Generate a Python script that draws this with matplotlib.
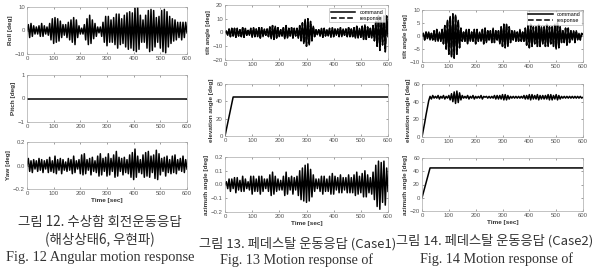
import numpy as np
import matplotlib
matplotlib.use("Agg")
import matplotlib.pyplot as plt

plt.rcParams['font.family'] = ['Liberation Sans', 'DejaVu Sans']

# time grid of the read-off extremes (every 5 s)
t = np.arange(0, 601, 5)

roll = [0, 2.5, -3, 3, -2.5, 2, -1.5, 1.5, -1.5, 2,
        -2.5, 3, -2.5, 2, -1.5, 1.5, -2, 3, -4, 5,
        -5.5, 5.5, -5, 5, -4.5, 4, -3, 2.5, -2, 2.5,
        -3, 3.5, -4, 4.5, -5, 5.5, -6, 4.5, -3, 2,
        -1.5, 1, -1.5, 2.5, -4, 5, -6, 6.5, -5.5, 4.5,
        -3.5, 3, -2.5, 1.5, -1, 1.5, -2.5, 3.5, -5, 6,
        -6.5, 6, -5, 4.5, -5, 5.5, -6, 7, -7.5, 7,
        -6, 5, -5.5, 6.5, -7, 7.5, -8, 8, -7.5, 7.5,
        -8.5, 9.5, -9, 10, -8, 6.5, -5, 4.5, -5, 6.5,
        -7.5, 8.5, -9, 9, -8.5, 8.5, -7, 5.5, -5, 6,
        -7.5, 8.5, -9, 9, -9.5, 8, -7, 6, -5.5, 5,
        -4.5, 4.5, -4, 3.5, -3, 3.5, -4, 3.5, -3, 3.5, -1]

yaw = [0.00, 0.06, -0.05, 0.04, -0.06, 0.05, -0.03, 0.04, -0.05, 0.06,
       -0.04, 0.05, -0.06, 0.04, -0.03, 0.05, -0.06, 0.07, -0.05, 0.04,
       -0.06, 0.08, -0.07, 0.05, -0.04, 0.06, -0.07, 0.05, -0.04, 0.03,
       -0.05, 0.06, -0.04, 0.05, -0.07, 0.08, -0.06, 0.04, -0.03, 0.05,
       -0.07, 0.09, -0.08, 0.10, -0.07, 0.05, -0.04, 0.06, -0.08, 0.07,
       -0.05, 0.04, -0.06, 0.08, -0.09, 0.10, -0.08, 0.06, -0.05, 0.07,
       -0.09, 0.10, -0.08, 0.06, -0.05, 0.09, -0.10, 0.12, -0.09, 0.07,
       -0.05, 0.06, -0.08, 0.07, -0.06, 0.05, -0.07, 0.09, -0.10, 0.11,
       -0.12, 0.14, -0.10, 0.08, -0.06, 0.05, -0.07, 0.09, -0.10, 0.11,
       -0.09, 0.12, -0.10, 0.08, -0.06, 0.09, -0.11, 0.13, -0.12, 0.10,
       -0.08, 0.06, -0.05, 0.07, -0.09, 0.08, -0.06, 0.05, -0.07, 0.08,
       -0.06, 0.09, -0.07, 0.05, -0.04, 0.06, -0.05, 0.08, -0.06, 0.05, -0.03]

pitch_t = [0, 600]
pitch = [0, 0]

tilt1 = [0, 1, -2, 2.5, -3, 3, -2.5, 3, -3.5, 3,
         -2.5, 2, -3, 3.5, -3.5, 3, -2, 1.5, -2, 3,
         -3.5, 3.5, -3, 2.5, -3, 3.5, -4, 3.5, -3, 2.5,
         -2, 2.5, -3, 4, -4.5, 5, -5, 4.5, -4, 3.5,
         -3, 2, -2.5, 3.5, -4.5, 5, -4, 3, -2.5, 3.5,
         -4, 3, -2.5, 3, -4, 5, -6, 7, -8, 9.5,
         -10, 10, -9, 8, -6, 4.5, -3, 2, -1.5, 2,
         -2.5, 3, -3.5, 3, -2.5, 2, -2.5, 3, -3.5, 3.5,
         -3, 2.5, -2, 2.5, -3, 3.5, -3, 2.5, -2, 2.5,
         -3, 3.5, -3, 2.5, -3, 3.5, -4, 4.5, -4, 3,
         -3.5, 4.5, -5, 5.5, -5, 4, -3.5, 3, -4, 5,
         -6, 8, -10, 12, -13, 11, -9, 12, -14, 12, -3]

ramp_t = [0, 30, 600]
elev1 = [0, 45, 45]

azim1 = [0, 0.02, -0.03, 0.04, -0.05, 0.04, -0.03, 0.05, -0.06, 0.05,
         -0.04, 0.03, -0.05, 0.06, -0.05, 0.04, -0.03, 0.02, -0.04, 0.06,
         -0.07, 0.06, -0.05, 0.04, -0.05, 0.06, -0.07, 0.06, -0.05, 0.04,
         -0.03, 0.04, -0.05, 0.07, -0.08, 0.09, -0.07, 0.06, -0.05, 0.04,
         -0.04, 0.03, -0.04, 0.06, -0.08, 0.09, -0.07, 0.05, -0.04, 0.06,
         -0.07, 0.05, -0.04, 0.06, -0.08, 0.10, -0.11, 0.12, -0.12, 0.14,
         -0.13, 0.15, -0.12, 0.11, -0.09, 0.07, -0.05, 0.04, -0.03, 0.04,
         -0.05, 0.06, -0.07, 0.06, -0.05, 0.04, -0.05, 0.06, -0.07, 0.08,
         -0.07, 0.06, -0.04, 0.05, -0.06, 0.07, -0.06, 0.05, -0.04, 0.05,
         -0.06, 0.07, -0.06, 0.05, -0.06, 0.07, -0.08, 0.09, -0.07, 0.06,
         -0.06, 0.08, -0.09, 0.10, -0.09, 0.07, -0.06, 0.05, -0.07, 0.09,
         -0.11, 0.14, -0.16, 0.17, -0.18, 0.16, -0.13, 0.17, -0.15, 0.12, -0.05]

tilt2 = [0, 1, -1.5, 1.5, -1, 1.5, -1.5, 1, -1.5, 2,
         -2, 2.5, -2, 1.5, -2, 2.5, -3, 4, -5, 6,
         -7, 7.5, -8, 8.5, -8.5, 8, -7, 6, -4.5, 3,
         -2, 1.5, -2, 2.5, -3, 2.5, -2, 1.5, -2, 2.5,
         -3, 2.5, -2, 1.5, -2, 2.5, -3, 3, -2.5, 2,
         -1.5, 2, -2.5, 3, -2.5, 2, -1.5, 2, -3, 3.5,
         -4, 4.5, -4.5, 4.5, -4, 3.5, -2.5, 2, -1.5, 2,
         -2, 1.5, -2, 2.5, -2, 1.5, -2, 3, -3.5, 4,
         -4.5, 4.5, -4, 3.5, -3, 3.5, -4, 4.5, -4, 3.5,
         -3, 3.5, -4, 4.5, -4, 3.5, -3, 3.5, -4, 4.5,
         -5, 5, -4.5, 3.5, -2.5, 2, -2.5, 3, -3.5, 3,
         -2.5, 2, -1.5, 2, -2.5, 2, -1.5, 1, -1.5, 1, 0.5]

elev2 = [0, 8, 16, 25, 33, 41, 46, 43, 47, 44,
         46, 44, 47, 43, 46, 44, 47, 43, 46, 44,
         47, 42, 49, 40, 51, 38, 52, 39, 50, 42,
         47, 44, 46, 44, 47, 43, 46, 44, 47, 43,
         46, 44, 46, 44, 47, 43, 46, 45, 46, 44,
         46, 44, 46, 44, 47, 43, 47, 43, 47, 43,
         48, 42, 48, 42, 47, 43, 46, 44, 46, 44,
         46, 44, 46, 44, 46, 44, 47, 43, 47, 43,
         48, 42, 48, 43, 47, 43, 48, 42, 47, 43,
         47, 43, 47, 43, 48, 42, 48, 42, 47, 43,
         48, 42, 47, 43, 46, 44, 46, 44, 46, 44,
         46, 44, 46, 44, 46, 44, 46, 44, 46, 44, 45]

azim2 = [0, 45, 45]

W, H = 592, 269
fig = plt.figure(figsize=(W / 100, H / 100), dpi=100)


def add_ax(x0, x1, y0, y1):
    return fig.add_axes([x0 / W, 1 - y1 / H, (x1 - x0) / W, (y1 - y0) / H])


def style(ax, ylim, yticks, ylabel, xlabel=None):
    ax.set_xlim(0, 600)
    ax.set_ylim(*ylim)
    ax.set_xticks(range(0, 601, 100))
    ax.set_yticks(yticks)
    ax.tick_params(direction='in', length=1.5, width=0.4, labelsize=4.3,
                   colors='#555555', top=True, right=True, pad=1.5)
    for s in ax.spines.values():
        s.set_color('#aaaaaa')
        s.set_linewidth(0.5)
    ax.set_ylabel(ylabel, fontsize=4.6, fontweight='bold', labelpad=1.5,
                  color='#333333')
    if xlabel:
        ax.set_xlabel(xlabel, fontsize=4.6, fontweight='bold', labelpad=1.5,
                      color='#333333')


def legend(ax, pad):
    leg = ax.legend(loc='upper right', fontsize=3.9, frameon=True,
                    fancybox=False, edgecolor='#999999', handlelength=4.5,
                    borderpad=0.3, labelspacing=0.15, borderaxespad=pad)
    leg.get_frame().set_linewidth(0.4)


lw = 1.1

# column 1: ship angular motion
ax = add_ax(27, 187, 7, 54)
ax.plot(t, roll, 'k-', lw=lw)
style(ax, (-10, 10), [-10, 0, 10], 'Roll [deg]')

ax = add_ax(27, 187, 75, 122)
ax.plot(pitch_t, pitch, 'k-', lw=lw)
style(ax, (-1, 1), [-1, 0, 1], 'Pitch [deg]')

ax = add_ax(27, 187, 142, 189)
ax.plot(t, yaw, 'k-', lw=lw)
style(ax, (-0.2, 0.2), [-0.2, 0, 0.2], 'Yaw [deg]', 'Time [sec]')

# column 2: pedestal Case1
ax = add_ax(225, 388, 5, 60)
ax.plot(t, tilt1, 'k-', lw=lw, label='command')
ax.plot(t, tilt1, 'k--', lw=lw, label='response')
style(ax, (-20, 20), [-20, -10, 0, 10, 20], 'tilt angle [deg]')
legend(ax, 0.6)

ax = add_ax(225, 388, 84, 136)
ax.plot(ramp_t, elev1, 'k-', lw=lw)
style(ax, (0, 60), [0, 20, 40, 60], 'elevation angle [deg]')

ax = add_ax(225, 388, 157, 212)
ax.plot(t, azim1, 'k-', lw=lw)
style(ax, (-0.2, 0.2), [-0.2, -0.1, 0, 0.1, 0.2], 'azimuth angle [deg]',
      'Time [sec]')

# column 3: pedestal Case2
ax = add_ax(422, 583, 10, 62)
ax.plot(t, tilt2, 'k-', lw=lw, label='command')
ax.plot(t, tilt2, 'k--', lw=lw, label='response')
style(ax, (-10, 10), [-10, -5, 0, 5, 10], 'tilt angle [deg]')
legend(ax, 0.1)

ax = add_ax(422, 583, 84, 137)
ax.plot(t, elev2, 'k-', lw=lw)
style(ax, (0, 60), [0, 20, 40, 60], 'elevation angle [deg]')

ax = add_ax(422, 583, 158, 211)
ax.plot(ramp_t, azim2, 'k-', lw=lw)
style(ax, (-20, 60), [-20, 0, 20, 40, 60], 'azimuth angle [deg]',
      'Time [sec]')

# captions
kr = ['Noto Sans CJK KR', 'DejaVu Sans']
en = ['Liberation Serif', 'DejaVu Serif']


def put(x, y, s, fam, size, ha='center'):
    fig.text(x / W, 1 - y / H, s, family=fam, ha=ha, va='center',
             fontsize=size, color='#333333')


put(100, 222, '그림 12. 수상함 회전운동응답', kr, 9.7)
put(100, 240, '(해상상태6, 우현파)', kr, 9.7)
put(100, 257, 'Fig. 12 Angular motion response', en, 10.4)
put(298, 244, '그림 13. 페데스탈 운동응답 (Case1)', kr, 9.5)
put(297, 260, 'Fig. 13 Motion response of', en, 10.2)
put(396, 241, '그림 14. 페데스탈 운동응답 (Case2)', kr, 9.5, ha='left')
put(497, 259, 'Fig. 14 Motion response of', en, 10.2)

fig.savefig('out.png', dpi=100)
